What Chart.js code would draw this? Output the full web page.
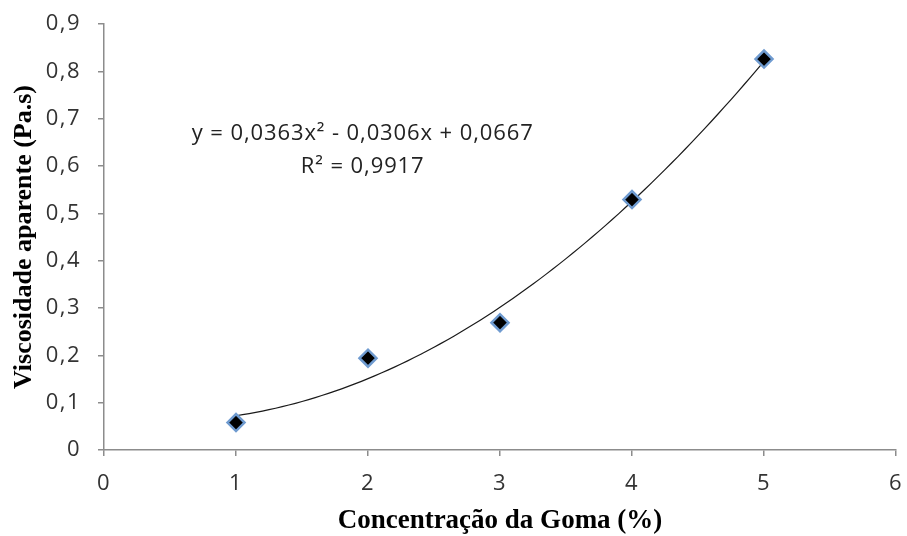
<!DOCTYPE html>
<html>
<head>
<meta charset="utf-8">
<script src="https://cdn.jsdelivr.net/npm/chart.js@4/dist/chart.umd.min.js"></script>
<style>
  html, body { margin: 0; padding: 0; background: #fff; }
  #wrap { width: 907px; height: 536px; }
</style>
</head>
<body>
<div id="wrap"><canvas id="c" width="907" height="536"></canvas></div>
<script>
// Measured viscosity against gum concentration
const concentracao = [1, 2, 3, 4, 5];
const viscosidade = [0.058, 0.194, 0.269, 0.529, 0.826];

// Quadratic trendline coefficients (a·x² + b·x + c) and fit quality
const coefTendencia = [0.0363, -0.0306, 0.0667];
const r2 = 0.9917;

const xTicks = [0, 1, 2, 3, 4, 5, 6];
const yTicks = [0, 0.1, 0.2, 0.3, 0.4, 0.5, 0.6, 0.7, 0.8, 0.9];

const tituloX = 'Concentração da Goma (%)';
const tituloY = 'Viscosidade aparente (Pa.s)';

const fmt = v => (v === 0 ? '0' : v.toFixed(1).replace('.', ','));
const fmt4 = v => v.toFixed(4).replace('.', ',');

// Trendline sampled over the measured range
const tendencia = [];
for (let i = 0; i <= 80; i++) {
  const x = concentracao[0] + (concentracao[concentracao.length - 1] - concentracao[0]) * i / 80;
  tendencia.push({ x, y: coefTendencia[0] * x * x + coefTendencia[1] * x + coefTendencia[2] });
}

const eqLinha1 = 'y = ' + fmt4(coefTendencia[0]) + 'x² - ' + fmt4(Math.abs(coefTendencia[1])) + 'x + ' + fmt4(coefTendencia[2]);
const eqLinha2 = 'R² = ' + fmt4(r2);

const sansFamily = '"Open Sans", sans-serif';
const tickFont = { family: sansFamily, size: 22 };
const tickColor = '#333';
const axisColor = '#8c8c8c';

// Slightly open tracking for the sans-serif labels
const spacingPlugin = {
  id: 'labelSpacing',
  beforeDraw(chart) { chart.ctx.letterSpacing = '1.5px'; }
};

// Equation / R² label and the two axis titles
const textPlugin = {
  id: 'chartTexts',
  afterDatasetsDraw(chart) {
    const { ctx, scales, chartArea } = chart;
    ctx.save();
    ctx.fillStyle = '#222';
    ctx.textAlign = 'center';
    ctx.textBaseline = 'middle';
    ctx.letterSpacing = '0.9px';
    ctx.font = '22px ' + sansFamily;
    const cx = scales.x.getPixelForValue(1.96);
    ctx.fillText(eqLinha1, cx, scales.y.getPixelForValue(0.668));
    ctx.fillText(eqLinha2, cx, scales.y.getPixelForValue(0.598));

    ctx.letterSpacing = '0px';
    ctx.fillStyle = '#000';
    ctx.font = 'bold 27px "Liberation Serif", serif';
    ctx.fillText(tituloX, (chartArea.left + chartArea.right) / 2, 521);

    ctx.font = 'bold 26px "Liberation Serif", serif';
    ctx.translate(24, (chartArea.top + chartArea.bottom) / 2);
    ctx.rotate(-Math.PI / 2);
    ctx.fillText(tituloY, 0, 0);
    ctx.restore();
  }
};

new Chart(document.getElementById('c'), {
  type: 'scatter',
  data: {
    datasets: [
      {
        type: 'line',
        data: tendencia,
        borderColor: '#1a1a1a',
        borderWidth: 1.2,
        pointRadius: 0,
        fill: false,
        tension: 0,
        order: 2
      },
      {
        data: concentracao.map((x, i) => ({ x, y: viscosidade[i] })),
        pointStyle: 'rectRot',
        pointRadius: 8.5,
        pointBackgroundColor: '#000',
        pointBorderColor: '#6f9bd0',
        pointBorderWidth: 2.5,
        order: 1
      }
    ]
  },
  plugins: [spacingPlugin, textPlugin],
  options: {
    responsive: false,
    animation: false,
    devicePixelRatio: 1,
    layout: { padding: { left: 0, right: 7, top: 24, bottom: 0 } },
    plugins: { legend: { display: false }, tooltip: { enabled: false } },
    scales: {
      x: {
        type: 'linear',
        min: 0, max: 6,
        afterBuildTicks: s => { s.ticks = xTicks.map(v => ({ value: v })); },
        afterFit: s => { s.height = 536 - 450; s.paddingLeft = 0; s.paddingRight = 0; },
        border: { color: axisColor, width: 1.5 },
        grid: { drawOnChartArea: false, drawTicks: true, tickLength: 6, color: axisColor, lineWidth: 1.5 },
        ticks: { font: tickFont, color: tickColor, padding: 15, maxRotation: 0, callback: v => String(v) }
      },
      y: {
        type: 'linear',
        min: 0, max: 0.9,
        afterBuildTicks: s => { s.ticks = yTicks.map(v => ({ value: v })); },
        afterFit: s => { s.width = 104; s.paddingTop = 0; s.paddingBottom = 0; },
        border: { color: axisColor, width: 1.5 },
        grid: { drawOnChartArea: false, drawTicks: true, tickLength: 6, color: axisColor, lineWidth: 1.5 },
        ticks: { font: tickFont, color: tickColor, padding: 17, callback: v => fmt(v) }
      }
    }
  }
});
</script>
</body>
</html>
